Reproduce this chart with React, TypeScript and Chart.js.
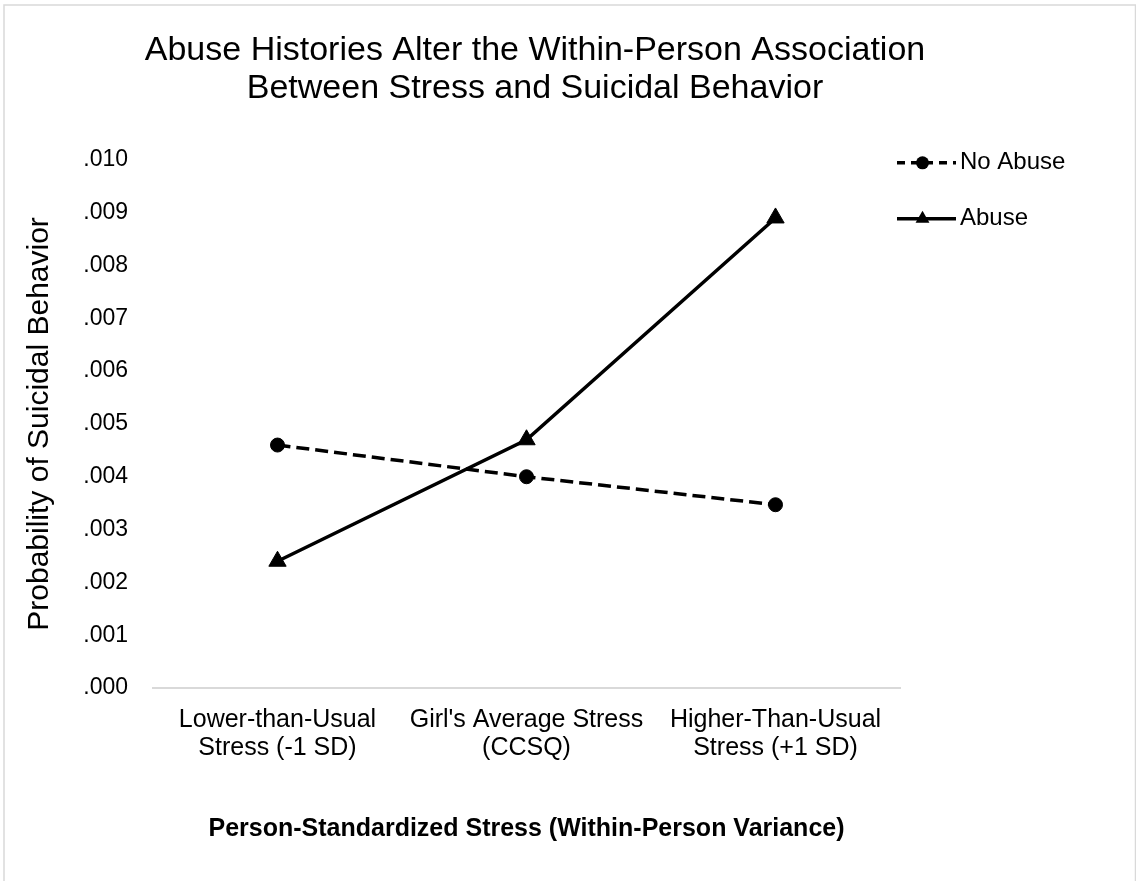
import React, { useEffect, useRef } from "react";
import { Chart, registerables } from "chart.js";

Chart.register(...registerables);

const categories: string[][] = [
  ["Lower-than-Usual", "Stress (-1 SD)"],
  ["Girl's Average Stress", "(CCSQ)"],
  ["Higher-Than-Usual", "Stress (+1 SD)"],
];
const noAbuseValues = [0.0046, 0.004, 0.00347];
const abuseValues = [0.0024, 0.0047, 0.0089];
const seriesNames = ["No Abuse", "Abuse"];
const titleLines = [
  "Abuse Histories Alter the Within-Person Association",
  "Between Stress and Suicidal Behavior",
];
const yAxisTitle = "Probability of Suicidal Behavior";
const xAxisTitle = "Person-Standardized Stress (Within-Person Variance)";
const yMin = 0;
const yMax = 0.01;
const yStep = 0.001;

const FONT = "'Liberation Sans', Arial, Helvetica, sans-serif";

const frame = {
  id: "frame",
  beforeDraw(chart: any) {
    const ctx = chart.ctx;
    ctx.save();
    ctx.strokeStyle = "#d9d9d9";
    ctx.lineWidth = 1.5;
    ctx.strokeRect(4, 5, chart.width - 4.5, chart.height + 20);
    ctx.restore();
  },
};

const lineLegend = {
  id: "lineLegend",
  afterDraw(chart: any) {
    const ctx = chart.ctx;
    const area = chart.chartArea;
    const x0 = area.right - 3;
    const x1 = x0 + 59;
    chart.data.datasets.forEach((ds: any, i: number) => {
      const y = area.top + 3 + i * 56;
      ctx.save();
      ctx.strokeStyle = "#000";
      ctx.lineWidth = 3.5;
      ctx.lineCap = "butt";
      ctx.setLineDash(ds.borderDash && ds.borderDash.length ? [8, 6] : []);
      ctx.beginPath();
      ctx.moveTo(x0, y);
      ctx.lineTo(x1, y);
      ctx.stroke();
      ctx.setLineDash([]);
      const mx = (x0 + x1) / 2 - 4;
      ctx.fillStyle = "#000";
      ctx.beginPath();
      if (ds.pointStyle === "triangle") {
        const r = 8;
        ctx.moveTo(mx, y - r);
        ctx.lineTo(mx + r * Math.cos(Math.PI / 6), y + r / 2);
        ctx.lineTo(mx - r * Math.cos(Math.PI / 6), y + r / 2);
        ctx.closePath();
      } else {
        ctx.arc(mx, y, 6.5, 0, Math.PI * 2);
      }
      ctx.fill();
      ctx.font = `24px ${FONT}`;
      ctx.textBaseline = "middle";
      ctx.textAlign = "left";
      ctx.fillText(ds.label, x1 + 4, y);
      ctx.restore();
    });
  },
};

export default function App() {
  const ref = useRef<HTMLCanvasElement>(null);

  useEffect(() => {
    if (!ref.current) return;
    Chart.defaults.font.family = FONT;
    Chart.defaults.color = "#000";
    const chart = new Chart(ref.current, {
      type: "line",
      data: {
        labels: categories,
        datasets: [
          {
            label: seriesNames[0],
            data: noAbuseValues,
            borderColor: "#000",
            backgroundColor: "#000",
            borderWidth: 3.5,
            borderDash: [13, 6],
            borderCapStyle: "butt",
            pointStyle: "circle",
            pointRadius: 7,
            pointBackgroundColor: "#000",
            pointBorderColor: "#000",
            pointBorderWidth: 1,
            tension: 0,
            fill: false,
          },
          {
            label: seriesNames[1],
            data: abuseValues,
            borderColor: "#000",
            backgroundColor: "#000",
            borderWidth: 3.5,
            pointStyle: "triangle",
            pointRadius: 10,
            pointBackgroundColor: "#000",
            pointBorderColor: "#000",
            pointBorderWidth: 1,
            tension: 0,
            fill: false,
          },
        ],
      },
      options: {
        responsive: false,
        animation: false,
        devicePixelRatio: 1,
        layout: { padding: { left: 0, right: 66, top: 0, bottom: 0 } },
        plugins: {
          legend: { display: false },
          tooltip: { enabled: false },
          title: {
            display: true,
            text: titleLines,
            color: "#000",
            font: { size: 34, weight: "normal", lineHeight: 1.13 },
            padding: { top: 31, bottom: 52 },
          },
        },
        scales: {
          x: {
            type: "category",
            offset: true,
            grid: { display: false, drawTicks: false },
            border: { display: true, color: "#d9d9d9", width: 2 },
            ticks: {
              color: "#000",
              font: { size: 25, lineHeight: 1.12 },
              padding: 18,
              maxRotation: 0,
              autoSkip: false,
            },
            title: {
              display: true,
              text: xAxisTitle,
              color: "#000",
              font: { size: 25, weight: "bold", lineHeight: 1.2 },
              padding: { top: 34, bottom: 37 },
            },
          },
          y: {
            type: "linear",
            min: yMin,
            max: yMax,
            grid: { display: false, drawTicks: false },
            border: { display: false },
            ticks: {
              stepSize: yStep,
              color: "#000",
              font: { size: 23 },
              padding: 25,
              callback: (v: any) => Number(v).toFixed(3).replace(/^0/, ""),
            },
            title: {
              display: true,
              text: yAxisTitle,
              color: "#000",
              font: { size: 30, weight: "normal", lineHeight: 1.2 },
              padding: { top: 22, bottom: 0 },
            },
            afterFit: (s: any) => {
              s.width = 153;
            },
          },
          y2: {
            type: "linear",
            position: "right",
            display: true,
            grid: { display: false, drawTicks: false },
            border: { display: false },
            ticks: { display: false },
            afterFit: (s: any) => {
              s.width = 170;
            },
          },
        },
      },
      plugins: [frame, lineLegend],
    } as any);
    return () => chart.destroy();
  }, []);

  return (
    <div style={{ position: "absolute", left: 0, top: 0, width: 1136, height: 881, background: "#fff" }}>
      <canvas ref={ref} width={1136} height={881} style={{ display: "block" }} />
    </div>
  );
}
